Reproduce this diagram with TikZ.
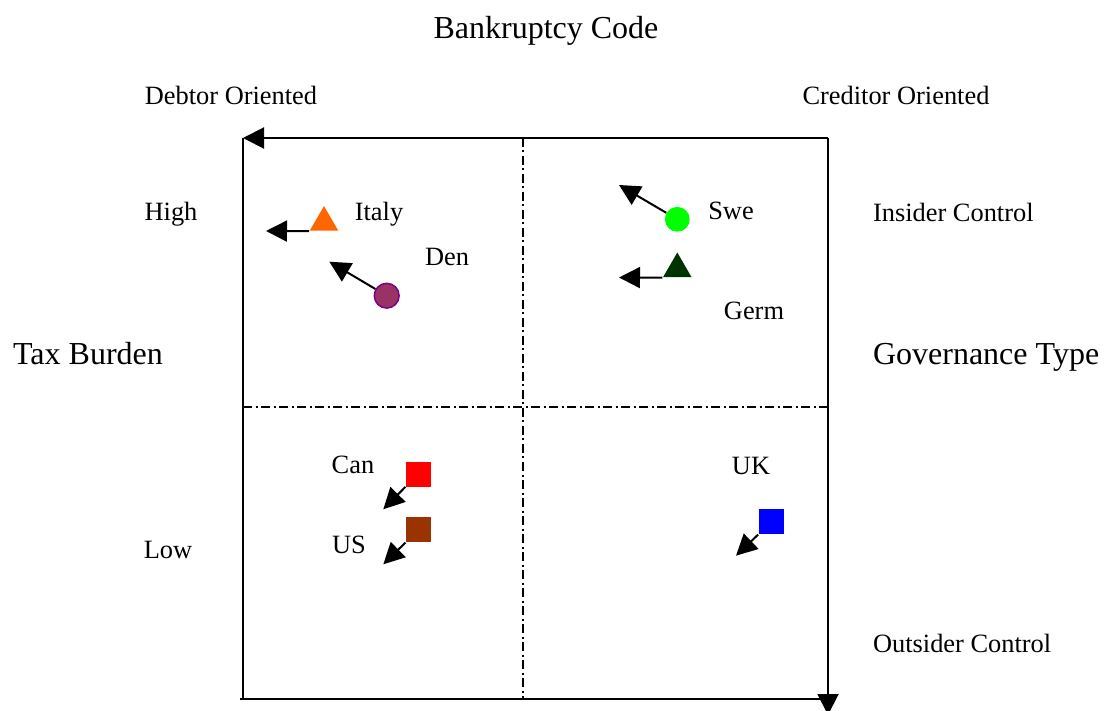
\documentclass[tikz,border=0pt]{standalone}
\usepackage{fontspec}
\setmainfont{Liberation Serif}
\usepackage{tikz}
\usetikzlibrary{arrows.meta,positioning,shapes}

\definecolor{italyorange}{HTML}{FF6600}
\definecolor{denplum}{HTML}{993366}
\definecolor{denedge}{HTML}{800080}
\definecolor{swegreen}{HTML}{00FF00}
\definecolor{germgreen}{HTML}{003300}
\definecolor{usbrown}{HTML}{993300}

\begin{document}
\begin{tikzpicture}[x=0.5pt,y=-0.5pt,>={Triangle[length=10.5pt,width=10.5pt]},
                small label/.style={font=\fontsize{13.2}{15}\selectfont},
                big label/.style={font=\fontsize{16}{19}\selectfont},
                axis/.style={line width=1pt},
                divider/.style={line width=1pt,dash pattern=on 4.5pt off 1.75pt on 1pt off 1.75pt},
                pointer/.style={->,line width=1pt},
                tri/.style={regular polygon,regular polygon sides=3,minimum size=16.5pt,inner sep=0pt},
                dot/.style={circle,minimum size=12.4pt,inner sep=0pt},
                box/.style={rectangle,minimum size=12.5pt,inner sep=0pt}]
  \useasboundingbox (0,0) rectangle (1104,711);

  \coordinate (nw) at (243,138);
  \coordinate (ne) at (828,138);
  \coordinate (sw) at (243,699);
  \coordinate (se) at (828,699);
  \coordinate (down) at (828,715);
  \coordinate (midtop) at (523,138);
  \coordinate (midbot) at (523,699);
  \coordinate (midleft) at (243,407.5);
  \coordinate (midright) at (828,407.5);

  \node[big label] (code) at (546,31) {Bankruptcy Code};
  \node[small label] (debtor) at (231,95) {Debtor Oriented};
  \node[small label] (creditor) at (896,95) {Creditor Oriented};
  \node[small label] (high) at (171,214) {High};
  \node[small label] (low) at (168,550) {Low};
  \node[big label] (tax) at (88,354) {Tax Burden};
  \node[big label,anchor=west] (gov) at (866,357) {Governance Type};
  \node[small label,anchor=west] (insider) at (866,212) {Insider Control};
  \node[small label,anchor=west] (outsider) at (866,643) {Outsider Control};

  \draw[axis,->] (ne) -- (nw);
  \draw[axis,->] (ne) -- (down);
  \draw[axis] (nw) -- (sw);
  \draw[axis] (240,699) -- (se);
  \draw[divider] (midtop) -- (midbot);
  \draw[divider] (midleft) -- (midright);

  \node[tri,fill=italyorange] (italy) at (324,222.5) {};
  \node[small label] (italylbl) at (379,214) {Italy};
  \coordinate (italytip) at (266,231);
  \node[dot,fill=denplum,draw=denedge,line width=0.75pt] (den) at (386.7,295.7) {};
  \node[small label] (denlbl) at (447,257) {Den};
  \coordinate (dentip) at (329.3,261.7);

  \node[dot,fill=swegreen] (swe) at (677.3,219.3) {};
  \node[small label] (swelbl) at (731,211) {Swe};
  \coordinate (swetip) at (619,185);
  \node[tri,fill=germgreen] (germ) at (677.3,269) {};
  \node[small label] (germlbl) at (754,311) {Germ};
  \coordinate (germtip) at (619,277.5);

  \node[box,fill=red] (can) at (418.3,474) {};
  \node[small label] (canlbl) at (353,465) {Can};
  \coordinate (cantip) at (383.3,509.3);
  \node[box,fill=usbrown] (us) at (418.3,529.7) {};
  \node[small label] (uslbl) at (349,545) {US};
  \coordinate (ustip) at (383.3,564.3);

  \node[box,fill=blue] (uk) at (771,521.7) {};
  \node[small label] (uklbl) at (751,466) {UK};
  \coordinate (uktip) at (736,555.7);

  \draw[pointer] (italy.corner 2) -- (italytip);
  \draw[pointer] (den) -- (dentip);
  \draw[pointer] (swe) -- (swetip);
  \draw[pointer] (germ.corner 2) -- (germtip);
  \draw[pointer] (can.south west) -- (cantip);
  \draw[pointer] (us.south west) -- (ustip);
  \draw[pointer] (uk.south west) -- (uktip);
\end{tikzpicture}
\end{document}
